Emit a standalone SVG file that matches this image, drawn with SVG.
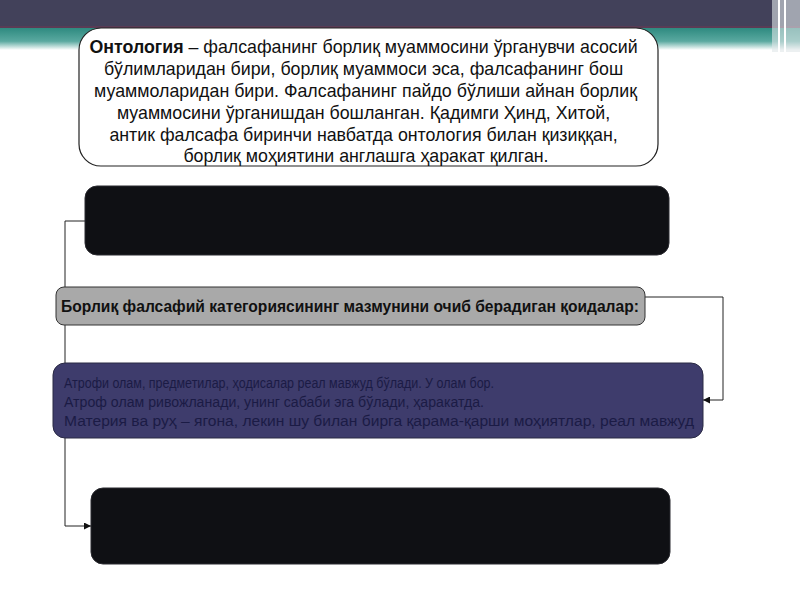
<svg xmlns="http://www.w3.org/2000/svg" width="800" height="600" viewBox="0 0 800 600">
<defs>
<linearGradient id="teal" x1="0" y1="0" x2="0" y2="1">
<stop offset="0" stop-color="#2e8a80"/>
<stop offset="0.6" stop-color="#5aa9a0"/>
<stop offset="1" stop-color="#ffffff"/>
</linearGradient>
<clipPath id="clipP"><rect x="53" y="363" width="648" height="75" rx="12"/></clipPath>
<marker id="arr" viewBox="0 0 10 10" refX="10" refY="5" markerWidth="7" markerHeight="7" orient="auto-start-reverse" markerUnits="userSpaceOnUse">
<path d="M0,0 L10,5 L0,10 z" fill="#111"/>
</marker>
<style>
.t{font-family:"Liberation Sans",Arial,sans-serif;fill:#111}
.dark{fill:#0f1014;stroke:#2a2a30;stroke-width:1}
.conn{fill:none;stroke:#222;stroke-width:1}
</style>
</defs>
<rect x="0" y="0" width="800" height="600" fill="#ffffff"/>
<rect x="0" y="0" width="800" height="26" fill="#42415a"/>
<rect x="0" y="26" width="800" height="2" fill="#5a3b55"/>
<rect x="0" y="28" width="800" height="22" fill="url(#teal)"/>
<rect x="772" y="0" width="28" height="52" fill="#dfe6e8" opacity="0.6"/>
<rect x="778" y="0" width="2" height="52" fill="#ffffff"/>
<rect x="784" y="0" width="2" height="52" fill="#ffffff"/>

<g id="connectors">
<path class="conn" d="M85,221 H65 V526 H91" marker-end="url(#arr)"/>
<path class="conn" d="M645,297 H723 V400 H703" marker-end="url(#arr)"/>
</g>

<g id="ontology">
<rect x="79" y="28" width="579" height="138" rx="22" fill="#ffffff" stroke="#222" stroke-width="1.2"/>
<text class="t" font-size="17.8" text-anchor="middle">
<tspan x="366" y="53"><tspan font-weight="bold">Онтология</tspan> – фалсафанинг борлиқ муаммосини ўрганувчи асосий</tspan>
<tspan x="366" y="75">бўлимларидан бири, борлиқ муаммоси эса, фалсафанинг бош</tspan>
<tspan x="368" y="97">муаммоларидан бири. Фалсафанинг пайдо бўлиши айнан борлиқ</tspan>
<tspan x="366" y="119">муаммосини ўрганишдан бошланган. Қадимги Ҳинд, Хитой,</tspan>
<tspan x="366" y="141">антик фалсафа биринчи навбатда онтология билан қизиққан,</tspan>
<tspan x="366" y="162">борлиқ моҳиятини англашга ҳаракат қилган.</tspan>
</text>
</g>

<g id="box1">
<rect class="dark" x="85" y="186" width="584" height="69" rx="12"/>
</g>

<g id="rules">
<rect x="56" y="287" width="589" height="38" rx="8" fill="#a9a9a9" stroke="#333" stroke-width="1"/>
<text class="t" x="350" y="312" font-size="15.6" font-weight="bold" text-anchor="middle">Борлиқ фалсафий категориясининг мазмунини очиб берадиган қоидалар:</text>
</g>

<g id="box3">
<rect x="53" y="363" width="650" height="75" rx="12" fill="#3e3c6c" stroke="#2a2a44" stroke-width="1"/>
<g clip-path="url(#clipP)">
<text class="t" font-size="14" style="fill:#1b1b45">
<tspan x="64" y="388" textLength="430" lengthAdjust="spacingAndGlyphs">Атрофи олам, предметилар, ҳодисалар реал мавжуд бўлади. У олам бор.</tspan>
<tspan x="64" y="407" textLength="420" lengthAdjust="spacingAndGlyphs">Атроф олам ривожланади, унинг сабаби эга бўлади, ҳаракатда.</tspan>
<tspan x="64" y="426" textLength="630" lengthAdjust="spacingAndGlyphs">Материя ва руҳ – ягона, лекин шу билан бирга қарама-қарши моҳиятлар, реал мавжуд</tspan>
</text>
</g>
</g>

<g id="box4">
<rect class="dark" x="91" y="488" width="579" height="76" rx="12"/>
</g>
</svg>
